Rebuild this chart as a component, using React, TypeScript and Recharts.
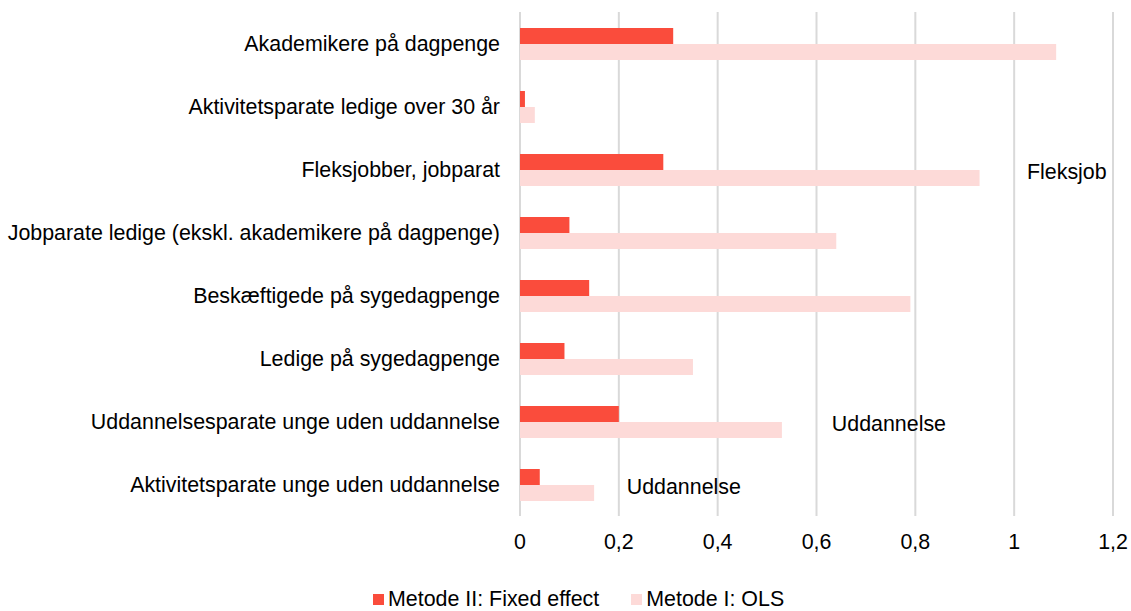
import React from "react";
import { BarChart, Bar, XAxis, YAxis, CartesianGrid, Legend, ReferenceDot } from "recharts";

const categories = [
  "Akademikere på dagpenge",
  "Aktivitetsparate ledige over 30 år",
  "Fleksjobber, jobparat",
  "Jobparate ledige (ekskl. akademikere på dagpenge)",
  "Beskæftigede på sygedagpenge",
  "Ledige på sygedagpenge",
  "Uddannelsesparate unge uden uddannelse",
  "Aktivitetsparate unge uden uddannelse",
];
const fixedEffect = [0.31, 0.01, 0.29, 0.1, 0.14, 0.09, 0.2, 0.04];
const ols = [1.085, 0.03, 0.93, 0.64, 0.79, 0.35, 0.53, 0.15];
const xTicks = [0, 0.2, 0.4, 0.6, 0.8, 1, 1.2];

const annotationCategories = [
  "Fleksjobber, jobparat",
  "Uddannelsesparate unge uden uddannelse",
  "Aktivitetsparate unge uden uddannelse",
];
const annotationValues = [1.026, 0.631, 0.216];
const annotationTexts = ["Fleksjob", "Uddannelse", "Uddannelse"];

const seriesNames = ["Metode II: Fixed effect", "Metode I: OLS"];
const RED = "#FA4C3C";
const PINK = "#FDDAD8";
const FONT = "'Liberation Sans', Arial, sans-serif";
const FS = 21.4;

const data = categories.map((c, i) => ({ name: c, fe: fixedEffect[i], ols: ols[i] }));

const LegendContent = () => (
  <div style={{ display: "flex", alignItems: "center", height: 22, paddingLeft: 373, fontFamily: FONT, fontSize: FS, color: "#000" }}>
    {[RED, PINK].map((col, i) => (
      <div key={i} style={{ display: "flex", alignItems: "center", marginRight: 32 }}>
        <div style={{ width: 11, height: 11, background: col, marginRight: 4 }} />
        <span style={{ lineHeight: "22px", whiteSpace: "nowrap" }}>{seriesNames[i]}</span>
      </div>
    ))}
  </div>
);

export default function App() {
  return (
    <div style={{ position: "absolute", left: 0, top: 0 }}>
      <BarChart
        width={1131}
        height={611}
        data={data}
        layout="vertical"
        margin={{ top: 12, right: 18, left: 0, bottom: 33 }}
        barGap={0}
        barSize={16}
      >
        <CartesianGrid horizontal={false} stroke="#d9d9d9" strokeWidth={2} />
        <XAxis
          type="number"
          domain={[0, 1.2]}
          ticks={xTicks}
          tickFormatter={(v: number) => String(v).replace(".", ",")}
          axisLine={false}
          tickLine={false}
          tickSize={0}
          tickMargin={18}
          height={40}
          tick={{ fontSize: FS, fill: "#000", fontFamily: FONT }}
        />
        <YAxis
          type="category"
          dataKey="name"
          width={520}
          axisLine={false}
          tickLine={false}
          tickSize={0}
          tickMargin={20}
          interval={0}
          tick={{ fontSize: FS, fill: "#000", fontFamily: FONT }}
        />
        <Bar dataKey="fe" name={seriesNames[0]} fill={RED} isAnimationActive={false} />
        <Bar dataKey="ols" name={seriesNames[1]} fill={PINK} isAnimationActive={false} />
        {annotationCategories.map((cat, i) => (
          <ReferenceDot
            key={i}
            x={annotationValues[i]}
            y={cat}
            r={0}
            fill="none"
            stroke="none"
            label={(props: any) => {
              const vb = props.viewBox || {};
              return (
                <text x={vb.x} y={vb.y + (vb.height || 0) / 2 + 2} dy="0.355em" textAnchor="start" fontSize={FS} fontFamily={FONT} fill="#000">
                  {annotationTexts[i]}
                </text>
              );
            }}
          />
        ))}
        <Legend
          verticalAlign="bottom"
          content={LegendContent}
          wrapperStyle={{ left: 0, top: 588, width: 1131, height: 22 }}
        />
      </BarChart>
    </div>
  );
}
